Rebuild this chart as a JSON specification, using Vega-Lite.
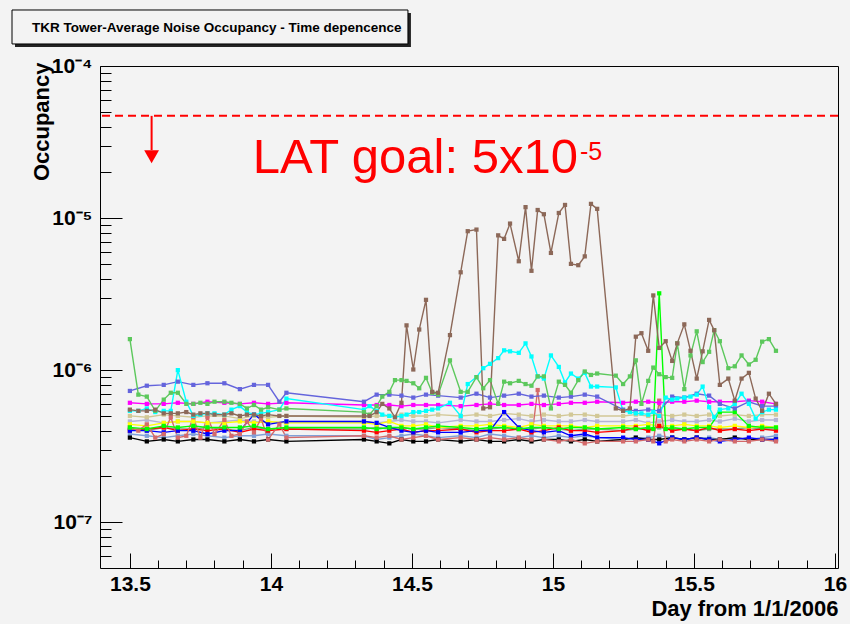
{
"$schema":"https://vega.github.io/schema/vega-lite/v6.json",
"autosize":{"type":"none"},
"padding":{"left":100,"top":66,"right":12,"bottom":56},
"width":738,"height":502,
"background":"#f3f3f3",
"title":{"text":"TKR Tower-Average Noise Occupancy - Time depencence","anchor":"start","frame":"group","font":"Liberation Sans","fontWeight":"bold","fontSize":13.5,"color":"#000","dx":-68,"offset":-25},
"config":{"view":{"stroke":"#000","strokeWidth":1,"fill":"#f3f3f3"},"axis":{"grid":false}},
"resolve":{"axis":{"x":"independent","y":"independent"}},
"layer":[
{"data":{"values":[{"x":13.0926,"x2":14.4966,"y":2.231e-4,"y2":1.334e-4}]},
"mark":{"type":"rect","fill":"#222222"},
"encoding":{
"x":{"field":"x","type":"quantitative","scale":{"domain":[13.394,16.011],"nice":false,"zero":false},"axis":null},
"x2":{"field":"x2"},
"y":{"field":"y","type":"quantitative","scale":{"type":"log","domain":[5e-8,1e-4],"nice":false},"axis":null},
"y2":{"field":"y2"}}},
{"data":{"values":[{"x":13.082,"x2":14.486,"y":2.335e-4,"y2":1.396e-4}]},
"mark":{"type":"rect","fill":"#f3f3f3","stroke":"#000","strokeWidth":1},
"encoding":{
"x":{"field":"x","type":"quantitative","scale":{"domain":[13.394,16.011],"nice":false,"zero":false},"axis":null},
"x2":{"field":"x2"},
"y":{"field":"y","type":"quantitative","scale":{"type":"log","domain":[5e-8,1e-4],"nice":false},"axis":null},
"y2":{"field":"y2"}}},
{"data":{"values":[
{"s":"lav","t":13.5,"v":4.6e-7},{"s":"lav","t":13.56,"v":4.7e-7},{"s":"lav","t":13.62,"v":4.5e-7},{"s":"lav","t":13.67,"v":4.6e-7},{"s":"lav","t":13.725,"v":4.6e-7},{"s":"lav","t":13.775,"v":4.5e-7},{"s":"lav","t":13.835,"v":4.6e-7},{"s":"lav","t":13.89,"v":4.7e-7},{"s":"lav","t":13.94,"v":4.6e-7},{"s":"lav","t":13.99,"v":4.5e-7},{"s":"lav","t":14.055,"v":4.6e-7},
{"s":"lav","t":14.33,"v":4.6e-7},{"s":"lav","t":14.375,"v":4.5e-7},{"s":"lav","t":14.42,"v":4.6e-7},{"s":"lav","t":14.463,"v":4.7e-7},{"s":"lav","t":14.505,"v":4.6e-7},{"s":"lav","t":14.55,"v":4.6e-7},{"s":"lav","t":14.593,"v":4.5e-7},{"s":"lav","t":14.673,"v":4.7e-7},{"s":"lav","t":14.729,"v":4.6e-7},{"s":"lav","t":14.777,"v":4.6e-7},{"s":"lav","t":14.827,"v":4.7e-7},{"s":"lav","t":14.879,"v":4.8e-7},{"s":"lav","t":14.924,"v":4.6e-7},{"s":"lav","t":14.968,"v":4.7e-7},{"s":"lav","t":15.021,"v":4.6e-7},{"s":"lav","t":15.064,"v":4.6e-7},{"s":"lav","t":15.113,"v":4.7e-7},{"s":"lav","t":15.157,"v":4.6e-7},{"s":"lav","t":15.249,"v":4.6e-7},{"s":"lav","t":15.294,"v":4.7e-7},{"s":"lav","t":15.338,"v":4.5e-7},{"s":"lav","t":15.377,"v":4.6e-7},{"s":"lav","t":15.423,"v":4.7e-7},{"s":"lav","t":15.466,"v":4.6e-7},{"s":"lav","t":15.51,"v":4.6e-7},{"s":"lav","t":15.554,"v":4.7e-7},{"s":"lav","t":15.592,"v":4.6e-7},{"s":"lav","t":15.645,"v":4.8e-7},{"s":"lav","t":15.695,"v":4.6e-7},{"s":"lav","t":15.742,"v":4.7e-7},{"s":"lav","t":15.791,"v":4.7e-7},
{"s":"tan","t":13.5,"v":5.0e-7},{"s":"tan","t":13.56,"v":4.9e-7},{"s":"tan","t":13.62,"v":5.1e-7},{"s":"tan","t":13.67,"v":5.0e-7},{"s":"tan","t":13.725,"v":4.9e-7},{"s":"tan","t":13.775,"v":5.0e-7},{"s":"tan","t":13.835,"v":5.0e-7},{"s":"tan","t":13.89,"v":4.8e-7},{"s":"tan","t":13.94,"v":5.0e-7},{"s":"tan","t":13.99,"v":4.9e-7},{"s":"tan","t":14.055,"v":5.0e-7},
{"s":"tan","t":14.33,"v":4.9e-7},{"s":"tan","t":14.375,"v":5.0e-7},{"s":"tan","t":14.42,"v":5.0e-7},{"s":"tan","t":14.463,"v":5.1e-7},{"s":"tan","t":14.505,"v":5.0e-7},{"s":"tan","t":14.55,"v":5.0e-7},{"s":"tan","t":14.593,"v":5.1e-7},{"s":"tan","t":14.673,"v":5.0e-7},{"s":"tan","t":14.729,"v":5.1e-7},{"s":"tan","t":14.777,"v":5.0e-7},{"s":"tan","t":14.827,"v":5.2e-7},{"s":"tan","t":14.879,"v":5.1e-7},{"s":"tan","t":14.924,"v":5.0e-7},{"s":"tan","t":14.968,"v":5.1e-7},{"s":"tan","t":15.021,"v":5.0e-7},{"s":"tan","t":15.064,"v":5.1e-7},{"s":"tan","t":15.113,"v":5.1e-7},{"s":"tan","t":15.157,"v":5.0e-7},{"s":"tan","t":15.249,"v":5.0e-7},{"s":"tan","t":15.294,"v":5.1e-7},{"s":"tan","t":15.338,"v":5.0e-7},{"s":"tan","t":15.377,"v":5.1e-7},{"s":"tan","t":15.423,"v":5.0e-7},{"s":"tan","t":15.466,"v":5.1e-7},{"s":"tan","t":15.51,"v":5.0e-7},{"s":"tan","t":15.554,"v":5.1e-7},{"s":"tan","t":15.592,"v":5.0e-7},{"s":"tan","t":15.645,"v":5.1e-7},{"s":"tan","t":15.695,"v":5.0e-7},{"s":"tan","t":15.742,"v":5.1e-7},{"s":"tan","t":15.791,"v":5.1e-7},
{"s":"gg","t":13.5,"v":4.1e-7},{"s":"gg","t":13.56,"v":4.0e-7},{"s":"gg","t":13.62,"v":4.2e-7},{"s":"gg","t":13.67,"v":4.1e-7},{"s":"gg","t":13.725,"v":4.1e-7},{"s":"gg","t":13.775,"v":4.2e-7},{"s":"gg","t":13.835,"v":4.1e-7},{"s":"gg","t":13.89,"v":4.0e-7},{"s":"gg","t":13.94,"v":4.2e-7},{"s":"gg","t":13.99,"v":4.1e-7},{"s":"gg","t":14.055,"v":4.1e-7},
{"s":"gg","t":14.33,"v":4.1e-7},{"s":"gg","t":14.375,"v":4.2e-7},{"s":"gg","t":14.42,"v":4.1e-7},{"s":"gg","t":14.463,"v":4.2e-7},{"s":"gg","t":14.505,"v":4.1e-7},{"s":"gg","t":14.55,"v":4.1e-7},{"s":"gg","t":14.593,"v":4.2e-7},{"s":"gg","t":14.673,"v":4.1e-7},{"s":"gg","t":14.729,"v":4.0e-7},{"s":"gg","t":14.777,"v":4.1e-7},{"s":"gg","t":14.827,"v":4.2e-7},{"s":"gg","t":14.879,"v":4.1e-7},{"s":"gg","t":14.924,"v":4.1e-7},{"s":"gg","t":14.968,"v":4.2e-7},{"s":"gg","t":15.021,"v":4.1e-7},{"s":"gg","t":15.064,"v":4.0e-7},{"s":"gg","t":15.113,"v":4.1e-7},{"s":"gg","t":15.157,"v":4.1e-7},{"s":"gg","t":15.249,"v":4.0e-7},{"s":"gg","t":15.294,"v":4.1e-7},{"s":"gg","t":15.338,"v":4.1e-7},{"s":"gg","t":15.377,"v":4.2e-7},{"s":"gg","t":15.423,"v":4.1e-7},{"s":"gg","t":15.466,"v":4.1e-7},{"s":"gg","t":15.51,"v":4.0e-7},{"s":"gg","t":15.554,"v":4.1e-7},{"s":"gg","t":15.592,"v":4.1e-7},{"s":"gg","t":15.645,"v":4.1e-7},{"s":"gg","t":15.695,"v":4.2e-7},{"s":"gg","t":15.742,"v":4.1e-7},{"s":"gg","t":15.791,"v":4.1e-7},
{"s":"yel","t":13.5,"v":4.4e-7},{"s":"yel","t":13.56,"v":4.3e-7},{"s":"yel","t":13.62,"v":4.5e-7},{"s":"yel","t":13.67,"v":4.6e-7},{"s":"yel","t":13.725,"v":4.6e-7},{"s":"yel","t":13.775,"v":4.5e-7},{"s":"yel","t":13.835,"v":4.5e-7},{"s":"yel","t":13.89,"v":4.6e-7},{"s":"yel","t":13.94,"v":4.5e-7},{"s":"yel","t":13.99,"v":4.6e-7},{"s":"yel","t":14.055,"v":4.5e-7},
{"s":"yel","t":14.33,"v":4.5e-7},{"s":"yel","t":14.375,"v":4.4e-7},{"s":"yel","t":14.42,"v":4.6e-7},{"s":"yel","t":14.463,"v":4.3e-7},{"s":"yel","t":14.505,"v":4.3e-7},{"s":"yel","t":14.55,"v":4.4e-7},{"s":"yel","t":14.593,"v":4.2e-7},{"s":"yel","t":14.673,"v":4.3e-7},{"s":"yel","t":14.729,"v":4.3e-7},{"s":"yel","t":14.777,"v":4.4e-7},{"s":"yel","t":14.827,"v":4.3e-7},{"s":"yel","t":14.879,"v":4.2e-7},{"s":"yel","t":14.924,"v":4.4e-7},{"s":"yel","t":14.968,"v":4.3e-7},{"s":"yel","t":15.021,"v":4.3e-7},{"s":"yel","t":15.064,"v":4.3e-7},{"s":"yel","t":15.113,"v":4.2e-7},{"s":"yel","t":15.157,"v":4.3e-7},{"s":"yel","t":15.249,"v":4.3e-7},{"s":"yel","t":15.294,"v":4.3e-7},{"s":"yel","t":15.338,"v":4.4e-7},{"s":"yel","t":15.377,"v":4.3e-7},{"s":"yel","t":15.423,"v":4.3e-7},{"s":"yel","t":15.466,"v":4.4e-7},{"s":"yel","t":15.51,"v":4.3e-7},{"s":"yel","t":15.554,"v":4.3e-7},{"s":"yel","t":15.592,"v":4.2e-7},{"s":"yel","t":15.645,"v":4.3e-7},{"s":"yel","t":15.695,"v":4.2e-7},{"s":"yel","t":15.742,"v":4.3e-7},{"s":"yel","t":15.791,"v":4.2e-7},
{"s":"stl","t":13.5,"v":3.8e-7},{"s":"stl","t":13.56,"v":3.7e-7},{"s":"stl","t":13.62,"v":3.6e-7},{"s":"stl","t":13.67,"v":3.7e-7},{"s":"stl","t":13.725,"v":3.8e-7},{"s":"stl","t":13.775,"v":3.7e-7},{"s":"stl","t":13.835,"v":3.6e-7},{"s":"stl","t":13.89,"v":3.7e-7},{"s":"stl","t":13.94,"v":3.7e-7},{"s":"stl","t":13.99,"v":3.8e-7},{"s":"stl","t":14.055,"v":3.7e-7},
{"s":"stl","t":14.33,"v":3.7e-7},{"s":"stl","t":14.375,"v":3.5e-7},{"s":"stl","t":14.42,"v":3.6e-7},{"s":"stl","t":14.463,"v":3.7e-7},{"s":"stl","t":14.505,"v":3.8e-7},{"s":"stl","t":14.55,"v":3.7e-7},{"s":"stl","t":14.593,"v":3.6e-7},{"s":"stl","t":14.673,"v":3.7e-7},{"s":"stl","t":14.729,"v":3.6e-7},{"s":"stl","t":14.777,"v":3.8e-7},{"s":"stl","t":14.827,"v":3.7e-7},{"s":"stl","t":14.879,"v":3.6e-7},{"s":"stl","t":14.924,"v":3.7e-7},{"s":"stl","t":14.968,"v":3.6e-7},{"s":"stl","t":15.021,"v":3.7e-7},{"s":"stl","t":15.064,"v":3.6e-7},{"s":"stl","t":15.113,"v":3.7e-7},{"s":"stl","t":15.157,"v":3.6e-7},{"s":"stl","t":15.249,"v":3.5e-7},{"s":"stl","t":15.294,"v":3.6e-7},{"s":"stl","t":15.338,"v":3.6e-7},{"s":"stl","t":15.377,"v":3.7e-7},{"s":"stl","t":15.423,"v":3.6e-7},{"s":"stl","t":15.466,"v":3.5e-7},{"s":"stl","t":15.51,"v":3.6e-7},{"s":"stl","t":15.554,"v":3.6e-7},{"s":"stl","t":15.592,"v":3.5e-7},{"s":"stl","t":15.645,"v":3.6e-7},{"s":"stl","t":15.695,"v":3.5e-7},{"s":"stl","t":15.742,"v":3.6e-7},{"s":"stl","t":15.791,"v":3.7e-7},
{"s":"red","t":13.5,"v":4.0e-7},{"s":"red","t":13.56,"v":4.1e-7},{"s":"red","t":13.62,"v":4.2e-7},{"s":"red","t":13.67,"v":4.0e-7},{"s":"red","t":13.725,"v":4.1e-7},{"s":"red","t":13.775,"v":4.0e-7},{"s":"red","t":13.835,"v":4.1e-7},{"s":"red","t":13.89,"v":3.9e-7},{"s":"red","t":13.94,"v":4.1e-7},{"s":"red","t":13.99,"v":4.0e-7},{"s":"red","t":14.055,"v":4.1e-7},
{"s":"red","t":14.33,"v":4.0e-7},{"s":"red","t":14.375,"v":3.9e-7},{"s":"red","t":14.42,"v":4.0e-7},{"s":"red","t":14.463,"v":4.1e-7},{"s":"red","t":14.505,"v":3.9e-7},{"s":"red","t":14.55,"v":4.0e-7},{"s":"red","t":14.593,"v":4.0e-7},{"s":"red","t":14.673,"v":4.1e-7},{"s":"red","t":14.729,"v":3.9e-7},{"s":"red","t":14.777,"v":4.0e-7},{"s":"red","t":14.827,"v":4.0e-7},{"s":"red","t":14.879,"v":4.1e-7},{"s":"red","t":14.924,"v":3.9e-7},{"s":"red","t":14.968,"v":4.0e-7},{"s":"red","t":15.021,"v":4.2e-7},{"s":"red","t":15.064,"v":4.0e-7},{"s":"red","t":15.113,"v":4.0e-7},{"s":"red","t":15.157,"v":3.9e-7},{"s":"red","t":15.249,"v":4.0e-7},{"s":"red","t":15.294,"v":4.2e-7},{"s":"red","t":15.338,"v":4.0e-7},{"s":"red","t":15.377,"v":4.3e-7},{"s":"red","t":15.423,"v":4.0e-7},{"s":"red","t":15.466,"v":4.1e-7},{"s":"red","t":15.51,"v":4.0e-7},{"s":"red","t":15.554,"v":4.2e-7},{"s":"red","t":15.592,"v":4.0e-7},{"s":"red","t":15.645,"v":4.1e-7},{"s":"red","t":15.695,"v":4.0e-7},{"s":"red","t":15.742,"v":4.1e-7},{"s":"red","t":15.791,"v":4.0e-7},
{"s":"blk","t":13.5,"v":3.6e-7},{"s":"blk","t":13.56,"v":3.4e-7},{"s":"blk","t":13.62,"v":3.5e-7},{"s":"blk","t":13.67,"v":3.4e-7},{"s":"blk","t":13.725,"v":3.5e-7},{"s":"blk","t":13.775,"v":3.5e-7},{"s":"blk","t":13.835,"v":3.4e-7},{"s":"blk","t":13.89,"v":3.5e-7},{"s":"blk","t":13.94,"v":3.4e-7},{"s":"blk","t":13.99,"v":3.5e-7},{"s":"blk","t":14.055,"v":3.4e-7},
{"s":"blk","t":14.33,"v":3.5e-7},{"s":"blk","t":14.375,"v":3.4e-7},{"s":"blk","t":14.42,"v":3.3e-7},{"s":"blk","t":14.463,"v":3.5e-7},{"s":"blk","t":14.505,"v":3.4e-7},{"s":"blk","t":14.55,"v":3.4e-7},{"s":"blk","t":14.593,"v":3.5e-7},{"s":"blk","t":14.673,"v":3.4e-7},{"s":"blk","t":14.729,"v":3.5e-7},{"s":"blk","t":14.777,"v":3.4e-7},{"s":"blk","t":14.827,"v":3.4e-7},{"s":"blk","t":14.879,"v":3.5e-7},{"s":"blk","t":14.924,"v":3.4e-7},{"s":"blk","t":14.968,"v":3.5e-7},{"s":"blk","t":15.021,"v":3.5e-7},{"s":"blk","t":15.064,"v":3.4e-7},{"s":"blk","t":15.113,"v":3.5e-7},{"s":"blk","t":15.157,"v":3.4e-7},{"s":"blk","t":15.249,"v":3.5e-7},{"s":"blk","t":15.294,"v":3.6e-7},{"s":"blk","t":15.338,"v":3.5e-7},{"s":"blk","t":15.377,"v":3.5e-7},{"s":"blk","t":15.423,"v":3.6e-7},{"s":"blk","t":15.466,"v":3.5e-7},{"s":"blk","t":15.51,"v":3.6e-7},{"s":"blk","t":15.554,"v":3.5e-7},{"s":"blk","t":15.592,"v":3.5e-7},{"s":"blk","t":15.645,"v":3.6e-7},{"s":"blk","t":15.695,"v":3.5e-7},{"s":"blk","t":15.742,"v":3.5e-7},{"s":"blk","t":15.791,"v":3.5e-7},
{"s":"blu","t":13.5,"v":4.0e-7},{"s":"blu","t":13.56,"v":4.0e-7},{"s":"blu","t":13.62,"v":3.9e-7},{"s":"blu","t":13.67,"v":4.0e-7},{"s":"blu","t":13.725,"v":4.0e-7},{"s":"blu","t":13.775,"v":3.8e-7},{"s":"blu","t":13.835,"v":4.0e-7},{"s":"blu","t":13.89,"v":4.0e-7},{"s":"blu","t":13.94,"v":5.1e-7},{"s":"blu","t":13.99,"v":4.4e-7},{"s":"blu","t":14.055,"v":4.6e-7},
{"s":"blu","t":14.33,"v":4.6e-7},{"s":"blu","t":14.375,"v":4.5e-7},{"s":"blu","t":14.42,"v":4.2e-7},{"s":"blu","t":14.463,"v":4.0e-7},{"s":"blu","t":14.505,"v":3.9e-7},{"s":"blu","t":14.55,"v":4.0e-7},{"s":"blu","t":14.593,"v":3.9e-7},{"s":"blu","t":14.673,"v":3.9e-7},{"s":"blu","t":14.729,"v":4.0e-7},{"s":"blu","t":14.777,"v":4.0e-7},{"s":"blu","t":14.827,"v":5.3e-7},{"s":"blu","t":14.879,"v":4.2e-7},{"s":"blu","t":14.924,"v":4.0e-7},{"s":"blu","t":14.968,"v":3.9e-7},{"s":"blu","t":15.021,"v":4.0e-7},{"s":"blu","t":15.064,"v":3.7e-7},{"s":"blu","t":15.113,"v":3.8e-7},{"s":"blu","t":15.157,"v":3.6e-7},{"s":"blu","t":15.249,"v":3.6e-7},{"s":"blu","t":15.294,"v":3.5e-7},{"s":"blu","t":15.338,"v":3.5e-7},{"s":"blu","t":15.377,"v":3.3e-7},{"s":"blu","t":15.423,"v":3.6e-7},{"s":"blu","t":15.466,"v":3.5e-7},{"s":"blu","t":15.51,"v":3.6e-7},{"s":"blu","t":15.554,"v":3.5e-7},{"s":"blu","t":15.592,"v":3.4e-7},{"s":"blu","t":15.645,"v":3.5e-7},{"s":"blu","t":15.695,"v":3.6e-7},{"s":"blu","t":15.742,"v":3.5e-7},{"s":"blu","t":15.791,"v":3.5e-7},
{"s":"sal","t":13.5,"v":4.2e-7},{"s":"sal","t":13.53,"v":4.0e-7},{"s":"sal","t":13.56,"v":4.4e-7},{"s":"sal","t":13.59,"v":3.6e-7},{"s":"sal","t":13.62,"v":3.8e-7},{"s":"sal","t":13.645,"v":4.9e-7},{"s":"sal","t":13.67,"v":3.6e-7},{"s":"sal","t":13.7,"v":3.7e-7},{"s":"sal","t":13.725,"v":4.9e-7},{"s":"sal","t":13.75,"v":3.6e-7},{"s":"sal","t":13.775,"v":4.9e-7},{"s":"sal","t":13.8,"v":3.8e-7},{"s":"sal","t":13.835,"v":4.7e-7},{"s":"sal","t":13.86,"v":3.7e-7},{"s":"sal","t":13.89,"v":3.8e-7},{"s":"sal","t":13.915,"v":4.6e-7},{"s":"sal","t":13.94,"v":3.9e-7},{"s":"sal","t":13.965,"v":4.8e-7},{"s":"sal","t":13.99,"v":3.5e-7},{"s":"sal","t":14.03,"v":4.4e-7},{"s":"sal","t":14.055,"v":3.6e-7},
{"s":"sal","t":14.33,"v":3.7e-7},{"s":"sal","t":14.375,"v":3.6e-7},{"s":"sal","t":14.42,"v":3.7e-7},{"s":"sal","t":14.463,"v":3.5e-7},{"s":"sal","t":14.505,"v":3.6e-7},{"s":"sal","t":14.55,"v":3.7e-7},{"s":"sal","t":14.593,"v":3.5e-7},{"s":"sal","t":14.673,"v":3.6e-7},{"s":"sal","t":14.729,"v":3.5e-7},{"s":"sal","t":14.777,"v":3.6e-7},{"s":"sal","t":14.827,"v":3.5e-7},{"s":"sal","t":14.879,"v":3.6e-7},{"s":"sal","t":14.924,"v":3.5e-7},{"s":"sal","t":14.946,"v":7.4e-7},{"s":"sal","t":14.968,"v":3.5e-7},{"s":"sal","t":15.021,"v":3.4e-7},{"s":"sal","t":15.064,"v":3.5e-7},{"s":"sal","t":15.113,"v":3.3e-7},{"s":"sal","t":15.157,"v":3.4e-7},{"s":"sal","t":15.249,"v":3.4e-7},{"s":"sal","t":15.294,"v":3.4e-7},{"s":"sal","t":15.338,"v":3.5e-7},{"s":"sal","t":15.356,"v":3.4e-7},{"s":"sal","t":15.377,"v":6.3e-7},{"s":"sal","t":15.4,"v":3.4e-7},{"s":"sal","t":15.423,"v":3.5e-7},{"s":"sal","t":15.466,"v":3.4e-7},{"s":"sal","t":15.51,"v":3.5e-7},{"s":"sal","t":15.554,"v":3.4e-7},{"s":"sal","t":15.592,"v":3.5e-7},{"s":"sal","t":15.645,"v":3.4e-7},{"s":"sal","t":15.695,"v":3.4e-7},{"s":"sal","t":15.742,"v":3.5e-7},{"s":"sal","t":15.791,"v":3.4e-7},
{"s":"bgr","t":13.5,"v":4.2e-7},{"s":"bgr","t":13.56,"v":4.1e-7},{"s":"bgr","t":13.62,"v":4.3e-7},{"s":"bgr","t":13.67,"v":4.2e-7},{"s":"bgr","t":13.725,"v":4.3e-7},{"s":"bgr","t":13.775,"v":4.2e-7},{"s":"bgr","t":13.835,"v":4.2e-7},{"s":"bgr","t":13.89,"v":4.2e-7},{"s":"bgr","t":13.94,"v":4.3e-7},{"s":"bgr","t":13.99,"v":4.1e-7},{"s":"bgr","t":14.055,"v":4.2e-7},
{"s":"bgr","t":14.33,"v":4.2e-7},{"s":"bgr","t":14.375,"v":4.1e-7},{"s":"bgr","t":14.42,"v":4.2e-7},{"s":"bgr","t":14.463,"v":4.2e-7},{"s":"bgr","t":14.505,"v":4.1e-7},{"s":"bgr","t":14.55,"v":4.2e-7},{"s":"bgr","t":14.593,"v":4.3e-7},{"s":"bgr","t":14.673,"v":4.2e-7},{"s":"bgr","t":14.729,"v":4.1e-7},{"s":"bgr","t":14.777,"v":4.2e-7},{"s":"bgr","t":14.827,"v":4.2e-7},{"s":"bgr","t":14.879,"v":4.1e-7},{"s":"bgr","t":14.924,"v":4.2e-7},{"s":"bgr","t":14.968,"v":4.2e-7},{"s":"bgr","t":15.021,"v":4.1e-7},{"s":"bgr","t":15.064,"v":4.2e-7},{"s":"bgr","t":15.113,"v":4.2e-7},{"s":"bgr","t":15.157,"v":4.1e-7},{"s":"bgr","t":15.249,"v":4.2e-7},{"s":"bgr","t":15.294,"v":4.1e-7},{"s":"bgr","t":15.338,"v":4.2e-7},{"s":"bgr","t":15.356,"v":4.1e-7},{"s":"bgr","t":15.377,"v":3.2e-6},{"s":"bgr","t":15.4,"v":4.1e-7},{"s":"bgr","t":15.423,"v":4.2e-7},{"s":"bgr","t":15.466,"v":4.1e-7},{"s":"bgr","t":15.51,"v":4.2e-7},{"s":"bgr","t":15.554,"v":4.2e-7},{"s":"bgr","t":15.592,"v":5.3e-7},{"s":"bgr","t":15.645,"v":5.3e-7},{"s":"bgr","t":15.695,"v":4.3e-7},{"s":"bgr","t":15.742,"v":4.2e-7},{"s":"bgr","t":15.791,"v":4.2e-7},
{"s":"mag","t":13.5,"v":6.1e-7},{"s":"mag","t":13.56,"v":6.0e-7},{"s":"mag","t":13.62,"v":6.0e-7},{"s":"mag","t":13.67,"v":6.1e-7},{"s":"mag","t":13.725,"v":6.0e-7},{"s":"mag","t":13.775,"v":6.2e-7},{"s":"mag","t":13.835,"v":6.1e-7},{"s":"mag","t":13.89,"v":6.0e-7},{"s":"mag","t":13.94,"v":6.1e-7},{"s":"mag","t":13.99,"v":6.0e-7},{"s":"mag","t":14.055,"v":6.1e-7},
{"s":"mag","t":14.33,"v":5.9e-7},{"s":"mag","t":14.375,"v":5.9e-7},{"s":"mag","t":14.42,"v":5.9e-7},{"s":"mag","t":14.463,"v":5.8e-7},{"s":"mag","t":14.505,"v":5.9e-7},{"s":"mag","t":14.55,"v":5.9e-7},{"s":"mag","t":14.593,"v":5.9e-7},{"s":"mag","t":14.673,"v":5.8e-7},{"s":"mag","t":14.729,"v":5.9e-7},{"s":"mag","t":14.777,"v":6.0e-7},{"s":"mag","t":14.827,"v":5.9e-7},{"s":"mag","t":14.879,"v":5.9e-7},{"s":"mag","t":14.924,"v":6.0e-7},{"s":"mag","t":14.968,"v":5.9e-7},{"s":"mag","t":15.021,"v":6.0e-7},{"s":"mag","t":15.064,"v":6.1e-7},{"s":"mag","t":15.113,"v":6.1e-7},{"s":"mag","t":15.157,"v":6.2e-7},{"s":"mag","t":15.249,"v":6.1e-7},{"s":"mag","t":15.294,"v":6.2e-7},{"s":"mag","t":15.338,"v":6.2e-7},{"s":"mag","t":15.377,"v":6.1e-7},{"s":"mag","t":15.423,"v":6.2e-7},{"s":"mag","t":15.466,"v":6.2e-7},{"s":"mag","t":15.51,"v":6.3e-7},{"s":"mag","t":15.554,"v":6.2e-7},{"s":"mag","t":15.592,"v":6.2e-7},{"s":"mag","t":15.645,"v":6.2e-7},{"s":"mag","t":15.695,"v":6.3e-7},{"s":"mag","t":15.742,"v":6.2e-7},{"s":"mag","t":15.791,"v":6.0e-7},
{"s":"pur","t":13.5,"v":7.3e-7},{"s":"pur","t":13.56,"v":7.9e-7},{"s":"pur","t":13.62,"v":8.0e-7},{"s":"pur","t":13.67,"v":8.4e-7},{"s":"pur","t":13.725,"v":8.0e-7},{"s":"pur","t":13.775,"v":8.2e-7},{"s":"pur","t":13.835,"v":8.2e-7},{"s":"pur","t":13.89,"v":7.5e-7},{"s":"pur","t":13.94,"v":8.0e-7},{"s":"pur","t":13.99,"v":8.0e-7},{"s":"pur","t":14.03,"v":6.2e-7},{"s":"pur","t":14.055,"v":7.1e-7},
{"s":"pur","t":14.33,"v":6.2e-7},{"s":"pur","t":14.375,"v":6.9e-7},{"s":"pur","t":14.42,"v":6.9e-7},{"s":"pur","t":14.463,"v":6.8e-7},{"s":"pur","t":14.505,"v":6.6e-7},{"s":"pur","t":14.55,"v":6.9e-7},{"s":"pur","t":14.593,"v":6.8e-7},{"s":"pur","t":14.673,"v":6.6e-7},{"s":"pur","t":14.729,"v":7.0e-7},{"s":"pur","t":14.777,"v":6.6e-7},{"s":"pur","t":14.827,"v":6.8e-7},{"s":"pur","t":14.879,"v":7.0e-7},{"s":"pur","t":14.924,"v":6.7e-7},{"s":"pur","t":14.968,"v":6.8e-7},{"s":"pur","t":15.021,"v":6.6e-7},{"s":"pur","t":15.064,"v":6.7e-7},{"s":"pur","t":15.113,"v":6.9e-7},{"s":"pur","t":15.157,"v":6.7e-7},{"s":"pur","t":15.249,"v":5.5e-7},{"s":"pur","t":15.294,"v":5.4e-7},{"s":"pur","t":15.338,"v":5.5e-7},{"s":"pur","t":15.377,"v":5.4e-7},{"s":"pur","t":15.423,"v":6.7e-7},{"s":"pur","t":15.466,"v":6.6e-7},{"s":"pur","t":15.51,"v":7.0e-7},{"s":"pur","t":15.554,"v":6.8e-7},{"s":"pur","t":15.592,"v":6.0e-7},{"s":"pur","t":15.645,"v":5.6e-7},{"s":"pur","t":15.695,"v":6.2e-7},{"s":"pur","t":15.742,"v":5.8e-7},{"s":"pur","t":15.791,"v":5.8e-7},
{"s":"cyn","t":13.5,"v":5.4e-7},{"s":"cyn","t":13.53,"v":5.4e-7},{"s":"cyn","t":13.56,"v":5.6e-7},{"s":"cyn","t":13.59,"v":5.3e-7},{"s":"cyn","t":13.62,"v":5.4e-7},{"s":"cyn","t":13.645,"v":5.4e-7},{"s":"cyn","t":13.67,"v":10e-7},{"s":"cyn","t":13.7,"v":6.2e-7},{"s":"cyn","t":13.725,"v":5.0e-7},{"s":"cyn","t":13.75,"v":5.1e-7},{"s":"cyn","t":13.775,"v":5.2e-7},{"s":"cyn","t":13.8,"v":5.2e-7},{"s":"cyn","t":13.835,"v":5.1e-7},{"s":"cyn","t":13.86,"v":5.5e-7},{"s":"cyn","t":13.89,"v":5.8e-7},{"s":"cyn","t":13.915,"v":5.3e-7},{"s":"cyn","t":13.94,"v":5.1e-7},{"s":"cyn","t":13.965,"v":5.2e-7},{"s":"cyn","t":13.99,"v":5.3e-7},{"s":"cyn","t":14.03,"v":5.5e-7},{"s":"cyn","t":14.055,"v":6.5e-7},
{"s":"cyn","t":14.33,"v":5.5e-7},{"s":"cyn","t":14.35,"v":5.8e-7},{"s":"cyn","t":14.375,"v":5.4e-7},{"s":"cyn","t":14.395,"v":5.1e-7},{"s":"cyn","t":14.42,"v":5.0e-7},{"s":"cyn","t":14.44,"v":4.9e-7},{"s":"cyn","t":14.463,"v":5.0e-7},{"s":"cyn","t":14.481,"v":5.1e-7},{"s":"cyn","t":14.505,"v":5.3e-7},{"s":"cyn","t":14.526,"v":5.3e-7},{"s":"cyn","t":14.55,"v":5.4e-7},{"s":"cyn","t":14.572,"v":5.5e-7},{"s":"cyn","t":14.593,"v":5.6e-7},{"s":"cyn","t":14.635,"v":6.1e-7},{"s":"cyn","t":14.673,"v":5.0e-7},{"s":"cyn","t":14.698,"v":8.1e-7},{"s":"cyn","t":14.729,"v":9.0e-7},{"s":"cyn","t":14.753,"v":10.3e-7},{"s":"cyn","t":14.777,"v":11e-7},{"s":"cyn","t":14.806,"v":12e-7},{"s":"cyn","t":14.827,"v":13.5e-7},{"s":"cyn","t":14.848,"v":13.3e-7},{"s":"cyn","t":14.879,"v":13e-7},{"s":"cyn","t":14.903,"v":15e-7},{"s":"cyn","t":14.924,"v":12.3e-7},{"s":"cyn","t":14.946,"v":9.1e-7},{"s":"cyn","t":14.968,"v":8.8e-7},{"s":"cyn","t":14.993,"v":12.5e-7},{"s":"cyn","t":15.021,"v":10.5e-7},{"s":"cyn","t":15.043,"v":8.3e-7},{"s":"cyn","t":15.064,"v":9.5e-7},{"s":"cyn","t":15.09,"v":8.8e-7},{"s":"cyn","t":15.113,"v":9.6e-7},{"s":"cyn","t":15.135,"v":7.8e-7},{"s":"cyn","t":15.157,"v":7.8e-7},{"s":"cyn","t":15.223,"v":7.7e-7},{"s":"cyn","t":15.249,"v":5.4e-7},{"s":"cyn","t":15.273,"v":5.3e-7},{"s":"cyn","t":15.294,"v":5.2e-7},{"s":"cyn","t":15.314,"v":5.2e-7},{"s":"cyn","t":15.338,"v":5.1e-7},{"s":"cyn","t":15.356,"v":5.3e-7},{"s":"cyn","t":15.377,"v":5.0e-7},{"s":"cyn","t":15.4,"v":6.6e-7},{"s":"cyn","t":15.423,"v":6.4e-7},{"s":"cyn","t":15.441,"v":6.5e-7},{"s":"cyn","t":15.466,"v":6.6e-7},{"s":"cyn","t":15.488,"v":6.7e-7},{"s":"cyn","t":15.51,"v":6.9e-7},{"s":"cyn","t":15.531,"v":7.8e-7},{"s":"cyn","t":15.554,"v":5.7e-7},{"s":"cyn","t":15.572,"v":4.9e-7},{"s":"cyn","t":15.592,"v":5.5e-7},{"s":"cyn","t":15.622,"v":5.6e-7},{"s":"cyn","t":15.645,"v":6.0e-7},{"s":"cyn","t":15.669,"v":7.0e-7},{"s":"cyn","t":15.695,"v":6.0e-7},{"s":"cyn","t":15.719,"v":4.8e-7},{"s":"cyn","t":15.742,"v":5.3e-7},{"s":"cyn","t":15.766,"v":5.5e-7},{"s":"cyn","t":15.791,"v":5.5e-7},
{"s":"grn","t":13.5,"v":16e-7},{"s":"grn","t":13.53,"v":6.9e-7},{"s":"grn","t":13.56,"v":6.7e-7},{"s":"grn","t":13.59,"v":5.4e-7},{"s":"grn","t":13.62,"v":6.4e-7},{"s":"grn","t":13.645,"v":7.1e-7},{"s":"grn","t":13.67,"v":7.1e-7},{"s":"grn","t":13.7,"v":6.0e-7},{"s":"grn","t":13.725,"v":6.0e-7},{"s":"grn","t":13.75,"v":6.1e-7},{"s":"grn","t":13.775,"v":6.0e-7},{"s":"grn","t":13.8,"v":6.2e-7},{"s":"grn","t":13.835,"v":6.2e-7},{"s":"grn","t":13.86,"v":6.1e-7},{"s":"grn","t":13.89,"v":6.0e-7},{"s":"grn","t":13.915,"v":5.6e-7},{"s":"grn","t":13.94,"v":5.9e-7},{"s":"grn","t":13.965,"v":5.5e-7},{"s":"grn","t":13.99,"v":5.7e-7},{"s":"grn","t":14.03,"v":5.5e-7},{"s":"grn","t":14.055,"v":5.6e-7},
{"s":"grn","t":14.33,"v":5.3e-7},{"s":"grn","t":14.35,"v":5.1e-7},{"s":"grn","t":14.375,"v":5.8e-7},{"s":"grn","t":14.395,"v":6.7e-7},{"s":"grn","t":14.42,"v":7.2e-7},{"s":"grn","t":14.44,"v":8.6e-7},{"s":"grn","t":14.463,"v":8.6e-7},{"s":"grn","t":14.481,"v":8.5e-7},{"s":"grn","t":14.505,"v":8.2e-7},{"s":"grn","t":14.526,"v":7.6e-7},{"s":"grn","t":14.55,"v":8.9e-7},{"s":"grn","t":14.572,"v":7.1e-7},{"s":"grn","t":14.593,"v":6.9e-7},{"s":"grn","t":14.635,"v":11.6e-7},{"s":"grn","t":14.673,"v":7.2e-7},{"s":"grn","t":14.698,"v":7.2e-7},{"s":"grn","t":14.729,"v":9.0e-7},{"s":"grn","t":14.753,"v":7.6e-7},{"s":"grn","t":14.777,"v":8.6e-7},{"s":"grn","t":14.806,"v":6.0e-7},{"s":"grn","t":14.827,"v":8.4e-7},{"s":"grn","t":14.848,"v":8.2e-7},{"s":"grn","t":14.879,"v":8.5e-7},{"s":"grn","t":14.903,"v":8.1e-7},{"s":"grn","t":14.924,"v":7.9e-7},{"s":"grn","t":14.946,"v":9.1e-7},{"s":"grn","t":14.968,"v":9.1e-7},{"s":"grn","t":14.993,"v":5.6e-7},{"s":"grn","t":15.021,"v":8.4e-7},{"s":"grn","t":15.043,"v":8.0e-7},{"s":"grn","t":15.064,"v":7.1e-7},{"s":"grn","t":15.09,"v":8.6e-7},{"s":"grn","t":15.113,"v":9.8e-7},{"s":"grn","t":15.135,"v":9.3e-7},{"s":"grn","t":15.157,"v":9.5e-7},{"s":"grn","t":15.223,"v":9.2e-7},{"s":"grn","t":15.249,"v":8.1e-7},{"s":"grn","t":15.273,"v":9.1e-7},{"s":"grn","t":15.294,"v":11.6e-7},{"s":"grn","t":15.314,"v":6.0e-7},{"s":"grn","t":15.338,"v":8.5e-7},{"s":"grn","t":15.356,"v":10.4e-7},{"s":"grn","t":15.377,"v":9.4e-7},{"s":"grn","t":15.4,"v":9.0e-7},{"s":"grn","t":15.423,"v":8.9e-7},{"s":"grn","t":15.441,"v":15e-7},{"s":"grn","t":15.466,"v":7.5e-7},{"s":"grn","t":15.488,"v":12.5e-7},{"s":"grn","t":15.51,"v":18e-7},{"s":"grn","t":15.531,"v":11.3e-7},{"s":"grn","t":15.554,"v":13.2e-7},{"s":"grn","t":15.572,"v":18.3e-7},{"s":"grn","t":15.592,"v":15.5e-7},{"s":"grn","t":15.622,"v":10.3e-7},{"s":"grn","t":15.645,"v":10.6e-7},{"s":"grn","t":15.669,"v":12.5e-7},{"s":"grn","t":15.695,"v":10.9e-7},{"s":"grn","t":15.719,"v":11.7e-7},{"s":"grn","t":15.742,"v":15.4e-7},{"s":"grn","t":15.766,"v":16e-7},{"s":"grn","t":15.791,"v":13.4e-7},
{"s":"brn","t":13.5,"v":5.5e-7},{"s":"brn","t":13.53,"v":5.4e-7},{"s":"brn","t":13.56,"v":5.4e-7},{"s":"brn","t":13.59,"v":5.5e-7},{"s":"brn","t":13.62,"v":5.2e-7},{"s":"brn","t":13.645,"v":5.2e-7},{"s":"brn","t":13.67,"v":5.2e-7},{"s":"brn","t":13.7,"v":5.3e-7},{"s":"brn","t":13.725,"v":5.1e-7},{"s":"brn","t":13.75,"v":5.2e-7},{"s":"brn","t":13.775,"v":5.2e-7},{"s":"brn","t":13.8,"v":5.1e-7},{"s":"brn","t":13.835,"v":5.1e-7},{"s":"brn","t":13.86,"v":5.2e-7},{"s":"brn","t":13.89,"v":5.0e-7},{"s":"brn","t":13.915,"v":5.1e-7},{"s":"brn","t":13.94,"v":5.1e-7},{"s":"brn","t":13.965,"v":5.0e-7},{"s":"brn","t":13.99,"v":5.1e-7},{"s":"brn","t":14.03,"v":5.0e-7},{"s":"brn","t":14.055,"v":5.0e-7},
{"s":"brn","t":14.33,"v":5.0e-7},{"s":"brn","t":14.35,"v":5.0e-7},{"s":"brn","t":14.375,"v":5.3e-7},{"s":"brn","t":14.395,"v":6.0e-7},{"s":"brn","t":14.42,"v":5.6e-7},{"s":"brn","t":14.44,"v":4.9e-7},{"s":"brn","t":14.463,"v":6.1e-7},{"s":"brn","t":14.481,"v":19.7e-7},{"s":"brn","t":14.505,"v":10.1e-7},{"s":"brn","t":14.526,"v":18.5e-7},{"s":"brn","t":14.55,"v":29e-7},{"s":"brn","t":14.572,"v":7.2e-7},{"s":"brn","t":14.593,"v":7.1e-7},{"s":"brn","t":14.635,"v":17e-7},{"s":"brn","t":14.673,"v":44e-7},{"s":"brn","t":14.698,"v":82e-7},{"s":"brn","t":14.729,"v":84e-7},{"s":"brn","t":14.753,"v":5.6e-7},{"s":"brn","t":14.777,"v":5.7e-7},{"s":"brn","t":14.806,"v":77e-7},{"s":"brn","t":14.827,"v":73e-7},{"s":"brn","t":14.848,"v":92e-7},{"s":"brn","t":14.879,"v":52e-7},{"s":"brn","t":14.903,"v":118e-7},{"s":"brn","t":14.924,"v":45e-7},{"s":"brn","t":14.946,"v":113e-7},{"s":"brn","t":14.968,"v":106e-7},{"s":"brn","t":14.993,"v":59e-7},{"s":"brn","t":15.021,"v":108e-7},{"s":"brn","t":15.043,"v":122e-7},{"s":"brn","t":15.064,"v":50e-7},{"s":"brn","t":15.09,"v":49e-7},{"s":"brn","t":15.113,"v":56e-7},{"s":"brn","t":15.135,"v":124e-7},{"s":"brn","t":15.157,"v":115e-7},{"s":"brn","t":15.223,"v":5.6e-7},{"s":"brn","t":15.249,"v":5.4e-7},{"s":"brn","t":15.273,"v":5.6e-7},{"s":"brn","t":15.294,"v":16.6e-7},{"s":"brn","t":15.314,"v":17.5e-7},{"s":"brn","t":15.338,"v":13.4e-7},{"s":"brn","t":15.356,"v":31e-7},{"s":"brn","t":15.377,"v":14e-7},{"s":"brn","t":15.4,"v":15.5e-7},{"s":"brn","t":15.423,"v":11.5e-7},{"s":"brn","t":15.441,"v":15e-7},{"s":"brn","t":15.466,"v":20e-7},{"s":"brn","t":15.488,"v":13.4e-7},{"s":"brn","t":15.51,"v":8.8e-7},{"s":"brn","t":15.531,"v":13.3e-7},{"s":"brn","t":15.554,"v":21.4e-7},{"s":"brn","t":15.572,"v":18.3e-7},{"s":"brn","t":15.592,"v":8.0e-7},{"s":"brn","t":15.622,"v":8.8e-7},{"s":"brn","t":15.645,"v":6.3e-7},{"s":"brn","t":15.669,"v":8.8e-7},{"s":"brn","t":15.695,"v":9.6e-7},{"s":"brn","t":15.719,"v":6.5e-7},{"s":"brn","t":15.742,"v":5.4e-7},{"s":"brn","t":15.766,"v":7.0e-7},{"s":"brn","t":15.791,"v":6.0e-7}
]},
"mark":{"type":"line","strokeWidth":1.4,"clip":true,"point":{"shape":"square","size":18,"filled":true}},
"encoding":{
"x":{"field":"t","type":"quantitative","scale":{"domain":[13.394,16.011],"nice":false,"zero":false},
"axis":{"orient":"bottom","values":[13.5,14,14.5,15,15.5,16],"format":"~g","ticks":false,"domain":false,"grid":false,"labelFont":"Liberation Sans","labelFontWeight":"bold","labelFontSize":21,"labelColor":"#000","labelPadding":5,"labelFlush":false,"labelOverlap":false,"title":"Day from 1/1/2006","titleFont":"Liberation Sans","titleFontWeight":"bold","titleFontSize":22,"titleColor":"#000","titleAnchor":"end","titleAlign":"right","titlePadding":4}},
"y":{"field":"v","type":"quantitative","scale":{"type":"log","domain":[5e-8,1e-4],"nice":false},
"axis":{"orient":"left","values":[1e-7,1e-6,1e-5,1e-4],"ticks":false,"domain":false,"grid":false,"labelExpr":"datum.value < 5e-7 ? '10⁻⁷' : datum.value < 5e-6 ? '10⁻⁶' : datum.value < 5e-5 ? '10⁻⁵' : '10⁻⁴'","labelFont":"Liberation Sans","labelFontWeight":"bold","labelFontSize":21,"labelColor":"#000","labelPadding":8,"labelOverlap":false,"labelFlush":false,"title":"Occupancy","titleFont":"Liberation Sans","titleFontWeight":"bold","titleFontSize":22,"titleColor":"#000","titleAngle":270,"titleAlign":"right","titleBaseline":"middle","titleX":-59,"titleY":-4}},
"color":{"field":"s","type":"nominal","legend":null,"scale":{"domain":["lav","tan","gg","yel","stl","red","blk","blu","sal","bgr","mag","pur","cyn","grn","brn"],"range":["#b4b4d4","#d2c896","#80a080","#ffff00","#80a0d8","#ff0000","#000000","#0000ff","#d46a6a","#00ff00","#ff00ff","#6464dc","#00ffff","#5cc85c","#8c6858"]}}
}},
{"data":{"values":[{"g":4.7e-5}]},
"mark":{"type":"rule","color":"#ff0000","strokeWidth":2,"strokeDash":[8,5]},
"encoding":{"y":{"field":"g","type":"quantitative","scale":{"type":"log","domain":[5e-8,1e-4],"nice":false},"axis":null}}},
{"data":{"values":[{"x":13.577,"y":4.7e-5,"y2":2.8e-5}]},
"mark":{"type":"rule","color":"#ff0000","strokeWidth":2},
"encoding":{
"x":{"field":"x","type":"quantitative","scale":{"domain":[13.394,16.011],"nice":false,"zero":false},"axis":{"orient":"bottom","values":[13.5,14,14.5,15,15.5,16],"tickSize":-15,"tickColor":"#000","labels":false,"domain":false,"grid":false,"title":null}},
"y":{"field":"y","type":"quantitative","scale":{"type":"log","domain":[5e-8,1e-4],"nice":false},"axis":{"orient":"left","values":[1e-7,1e-6,1e-5,1e-4],"tickSize":-22,"tickColor":"#000","labels":false,"domain":false,"grid":false,"title":null}},
"y2":{"field":"y2"}}},
{"data":{"values":[{"x":13.577,"y":2.53e-5}]},
"mark":{"type":"point","shape":"triangle-down","size":220,"filled":true,"color":"#ff0000","opacity":1},
"encoding":{
"x":{"field":"x","type":"quantitative","scale":{"domain":[13.394,16.011],"nice":false,"zero":false},"axis":{"orient":"bottom","values":[13.6,13.7,13.8,13.9,14.1,14.2,14.3,14.4,14.6,14.7,14.8,14.9,15.1,15.2,15.3,15.4,15.6,15.7,15.8,15.9],"tickSize":-8,"tickColor":"#000","labels":false,"domain":false,"grid":false,"title":null}},
"y":{"field":"y","type":"quantitative","scale":{"type":"log","domain":[5e-8,1e-4],"nice":false},"axis":{"orient":"left","values":[6e-8,7e-8,8e-8,9e-8,2e-7,3e-7,4e-7,5e-7,6e-7,7e-7,8e-7,9e-7,2e-6,3e-6,4e-6,5e-6,6e-6,7e-6,8e-6,9e-6,2e-5,3e-5,4e-5,5e-5,6e-5,7e-5,8e-5,9e-5],"tickSize":-11,"tickColor":"#000","labels":false,"domain":false,"grid":false,"title":null}}}},
{"data":{"values":[{"x":13.936,"y":1.98e-5,"label":"LAT goal: 5x10"}]},
"mark":{"type":"text","align":"left","baseline":"alphabetic","font":"Liberation Sans","fontSize":49,"color":"#ff0000"},
"encoding":{
"x":{"field":"x","type":"quantitative","scale":{"domain":[13.394,16.011],"nice":false,"zero":false},"axis":null},
"y":{"field":"y","type":"quantitative","scale":{"type":"log","domain":[5e-8,1e-4],"nice":false},"axis":null},
"text":{"field":"label"}}},
{"data":{"values":[{"x":15.096,"y":2.41e-5,"label":"-5"}]},
"mark":{"type":"text","align":"left","baseline":"alphabetic","font":"Liberation Sans","fontSize":25,"color":"#ff0000"},
"encoding":{
"x":{"field":"x","type":"quantitative","scale":{"domain":[13.394,16.011],"nice":false,"zero":false},"axis":null},
"y":{"field":"y","type":"quantitative","scale":{"type":"log","domain":[5e-8,1e-4],"nice":false},"axis":null},
"text":{"field":"label"}}}
]
}
